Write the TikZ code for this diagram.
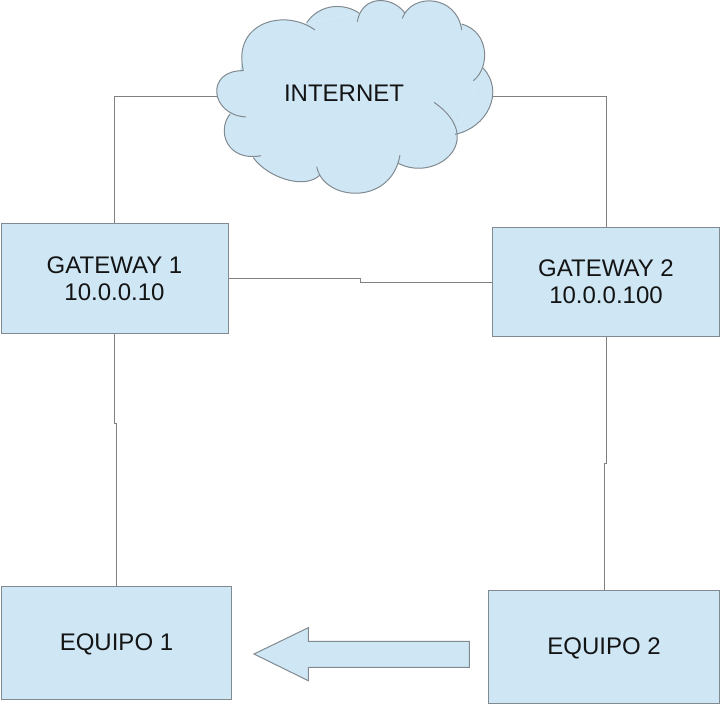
\documentclass[tikz,border=0pt]{standalone}
\usepackage{fontspec}
\setmainfont{Liberation Sans}
\usetikzlibrary{positioning}
\definecolor{boxfill}{HTML}{CFE7F5}
\definecolor{boxline}{HTML}{808A90}
\definecolor{wireline}{HTML}{808080}
\def\cloudlobes{%
{243.3,70.7}/{205,70}/{210,115}/{246,117},
{230,114}/{216,132}/{228,162}/{261,155.7},
{253.3,157.7}/{268,178}/{305,190}/{320,175},
{316.7,166.7}/{323,201}/{391,207}/{400,155},
{398.3,163.3}/{436,183}/{488,140}/{434,102.3},
{455,134.3}/{487,128}/{505,92}/{483.3,68.3},
{473.3,80.7}/{490,68}/{490,32}/{461.7,24},
{461.7,30}/{457,-5}/{412,-8}/{402.3,18.3},
{405,13.3}/{393,-4}/{362,-6}/{357.3,21.7},
{359.3,13.3}/{345,3}/{320,3}/{306.7,22.7},
{315,30}/{285,8}/{232,22}/{243.3,70.7}}
\begin{document}
\begin{tikzpicture}[x=1pt,y=-1pt,
	netbox/.style={draw=boxline, fill=boxfill, line width=1pt, inner sep=0pt, align=center,
		text=black!92, font=\fontsize{24}{27}\selectfont},
	wire/.style={draw=wireline, line width=0.75pt}]
	\useasboundingbox (0,0) rectangle (720,704);
	\fill[white] (0,0) rectangle (720,704);

	% Cloud
	\foreach \pa/\pb/\pc/\pd in \cloudlobes {
		\fill[boxfill] (\pa) .. controls (\pb) and (\pc) .. (\pd);
	}
	\fill[boxfill] (241.7,63.3) -- (230,114) -- (253.3,157.7) -- (316.7,175) -- (400,163.3) -- (455,134.3)
		-- (483.3,68.3) -- (461.7,24) -- (405,11.7) -- (359.3,13.3) -- (306.7,22.7) -- cycle;
	\foreach \pa/\pb/\pc/\pd in \cloudlobes {
		\draw[boxline, line width=1pt] (\pa) .. controls (\pb) and (\pc) .. (\pd);
	}
	\node[text=black!92, font=\fontsize{24}{27}\selectfont] (inet) at (344,93) {INTERNET};
	\coordinate (cloudW) at (216.5,96.5);
	\coordinate (cloudE) at (493,96.5);

	% Boxes
	\node[netbox, minimum width=227pt, minimum height=110pt] (gw1) at (114.5,278.5) {GATEWAY 1\\10.0.0.10};
	\node[netbox, minimum width=227pt, minimum height=109pt] (gw2) at (606,282) {GATEWAY 2\\10.0.0.100};
	\node[netbox, text height=20pt, minimum width=230pt, minimum height=112.5pt] (eq1) at (116.5,642.75) {EQUIPO 1};
	\node[netbox, text height=20pt, minimum width=231pt, minimum height=113pt] (eq2) at (604,646.5) {EQUIPO 2};

	% Links
	\draw[wire] (cloudW) -| (gw1.north);
	\draw[wire] (cloudE) -| (gw2.north);
	\draw[wire] (gw1.east) -- (360,278.5) -- (360,282) -- (gw2.west);
	\draw[wire] (gw1.south) -- (114.5,423) -- (116.5,423) -- (eq1.north);
	\draw[wire] (gw2.south) -- (606,463) -- (604,463) -- (eq2.north);

	% Block arrow
	\draw[draw=boxline, fill=boxfill, line width=1pt] (254,654) -- (308.3,627.7) -- (308.3,641.3)
		-- (469.3,641.3) -- (469.3,667.3) -- (308.3,667.3) -- (308.3,680.7) -- cycle;
\end{tikzpicture}
\end{document}
